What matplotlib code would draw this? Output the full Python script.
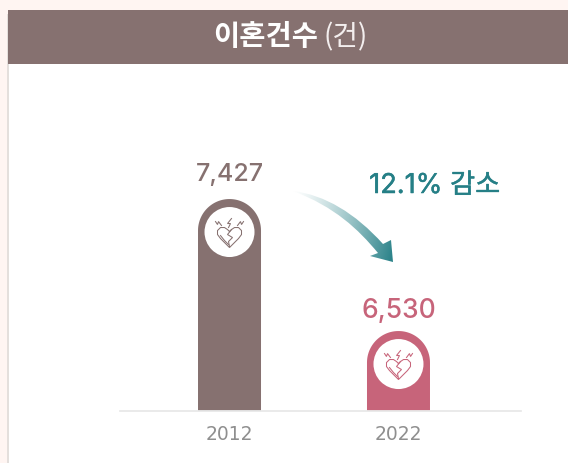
"""Divorce counts 2012 vs 2022, rounded bars with a gradient arrow."""
import matplotlib
matplotlib.use("Agg")
import matplotlib.pyplot as plt
import matplotlib.patheffects as pe
import numpy as np
from matplotlib.patches import Circle, PathPatch, Polygon, Rectangle
from matplotlib.path import Path

W, H = 568, 464

years = ["2012", "2022"]
counts = [7427, 6530]
count_labels = ["7,427", "6,530"]
bar_colors = ["#867170", "#c7647a"]
title_bold = "이혼건수"
title_light = "(건)"
change_label = "12.1% 감소"

BROWN = "#867170"
TEAL = "#257f86"
KR = ["Noto Sans CJK KR", "DejaVu Sans"]
YLO, YHI = 5990, 8348
XLO, XHI = -0.651, 1.725

# one broken heart, in pixels around the circle centre
HEART = [(0, -1), (-2, -3), (-5, -5), (-9, -5), (-12, -2), (-12, 2), (-9, 6), (-4, 11), (0, 15),
         (4, 11), (9, 6), (12, 2), (12, -2), (9, -5), (5, -5), (2, -3), (0, -1)]
INNER = [(-9, 3), (-5, 8), (-1, 12)]
CRACK = [(2, -3), (-2, 2), (3, 5), (-1, 9), (0, 14)]
SPARKS = [[(-14, -11), (-12, -8), (-11, -11), (-8, -7)],
          [(2, -14), (-2, -9), (1, -9), (-1, -5)],
          [(14, -11), (12, -8), (11, -11), (8, -7)]]


def rounded_bar(ax, x, top, width, ry, bottom, color):
    t = np.linspace(0, np.pi, 60)
    xs = x + width / 2 * np.cos(t)
    ys = top - ry + ry * np.sin(t)
    pts = [(x + width / 2, bottom)] + list(zip(xs, ys)) + [(x - width / 2, bottom)]
    ax.add_patch(Polygon(pts, closed=True, color=color, lw=0))


def icon(ov, cx, cy, color):
    ov.add_patch(Circle((cx, cy), 25, color="white", lw=0, zorder=5))
    for s in [HEART, INNER, CRACK] + SPARKS:
        a = np.array(s, dtype=float)
        ov.plot(cx + a[:, 0], cy + a[:, 1] + 0.5, color=color, lw=0.75, zorder=6,
                solid_joinstyle="miter")


fig = plt.figure(figsize=(W / 100, H / 100), dpi=100, facecolor="#fff5f2")

# overlay in pixel coordinates for the page furniture
ov = fig.add_axes([0, 0, 1, 1], zorder=3)
ov.set_xlim(0, W)
ov.set_ylim(H, 0)
ov.axis("off")
ov.patch.set_alpha(0)

bg = fig.add_axes([0, 0, 1, 1], zorder=0)
bg.set_xlim(0, W)
bg.set_ylim(H, 0)
bg.axis("off")
bg.add_patch(Rectangle((7, 15), 2, H, color="#e4dfdc", lw=0))
bg.add_patch(Rectangle((8.5, 15), W, H, color="white", lw=0))
bg.add_patch(Rectangle((8, 10.5), W, 54, color=BROWN, lw=0))

# data axes: baseline at y=411px, 119..521px wide
ax = fig.add_axes([119.5 / W, (H - 411.5) / H, 401.5 / W, 347 / H], zorder=2)
ax.patch.set_alpha(0)
ax.set_xlim(XLO, XHI)
ax.set_ylim(YLO, YHI)
for s in ("top", "left", "right"):
    ax.spines[s].set_visible(False)
ax.spines["bottom"].set_color("#e6e6e6")
ax.spines["bottom"].set_linewidth(1.2)
ax.set_yticks([])
ax.set_xticks(range(len(years)), years)
ax.tick_params(axis="x", length=0, pad=10, labelsize=13.5, labelcolor="#8f8f8f")
for lab in ax.get_xticklabels():
    lab.set_family("DejaVu Sans")

px_per_x = 401.5 / (XHI - XLO)
px_per_y = 347 / (YHI - YLO)
bar_w = 63 / px_per_x
ry = 31.5 / px_per_y
label_sizes = [18, 19]
label_offsets = [14, 8]
for i, (v, c, lab) in enumerate(zip(counts, bar_colors, count_labels)):
    rounded_bar(ax, i, v, bar_w, ry, YLO, c)
    ax.annotate(lab, (i, v), xytext=(0, label_offsets[i]), textcoords="offset pixels", ha="center",
                va="bottom", color=c, fontsize=label_sizes[i], family=["Inter"], fontweight="medium")
    cx = 119.5 + (i - XLO) * px_per_x
    cy = 411.5 - (v - YLO) * px_per_y + 33
    icon(ov, cx, cy, c)

# title
ov.text(213, 37, title_bold, color="white", fontsize=20.5, fontweight="bold",
        family=KR, ha="left", va="center")
ov.text(323, 37, title_light, color="#f3eeee", fontsize=20, family=KR, ha="left", va="center")

ov.text(434.5, 187, change_label, color=TEAL, fontsize=19.6, family=["Inter", "Noto Sans CJK KR"],
        ha="center", va="center", path_effects=[pe.withStroke(linewidth=0.35, foreground=TEAL)])

# curved gradient arrow
verts = [(293, 192), (325, 196), (355, 214), (383, 245), (391, 241), (393, 263), (370, 257),
         (378, 254), (358, 230), (335, 208), (293, 192)]
codes = [Path.MOVETO, Path.CURVE4, Path.CURVE4, Path.CURVE4, Path.LINETO, Path.LINETO, Path.LINETO,
         Path.LINETO, Path.CURVE4, Path.CURVE4, Path.CURVE4]
arrow = Path(verts, codes)
n = 200
gx, gy = np.meshgrid(np.linspace(0, 1, n), np.linspace(0, 1, n))
g = np.clip(0.85 * gx + 0.15 * gy, 0, 1) ** 1.25
rgb0 = np.array(matplotlib.colors.to_rgb("#ffffff"))
rgb1 = np.array(matplotlib.colors.to_rgb(TEAL))
img = rgb0 + (rgb1 - rgb0) * g[..., None]
im = ov.imshow(img, extent=(293, 394, 264, 191), aspect="auto", zorder=4)
im.set_clip_path(PathPatch(arrow, transform=ov.transData))
ov.set_xlim(0, W)
ov.set_ylim(H, 0)

fig.savefig("out.png", dpi=100, facecolor=fig.get_facecolor())
